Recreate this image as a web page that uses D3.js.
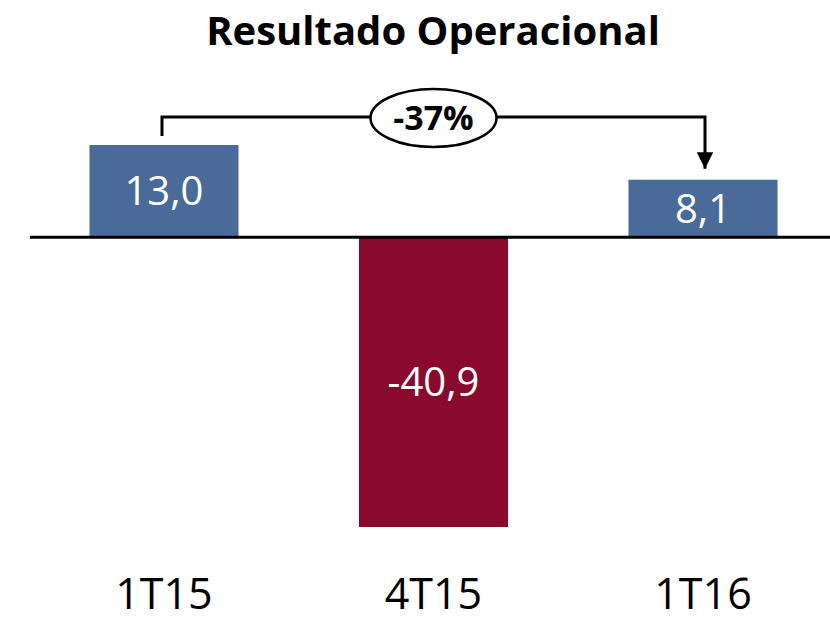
<!DOCTYPE html>
<html>
<head>
<meta charset="utf-8">
<script src="https://cdn.jsdelivr.net/npm/d3@7"></script>
<style>
  body { margin: 0; background: #fff; }
  svg { display: block; font-family: "Open Sans", sans-serif; }
</style>
</head>
<body>
<svg id="chart"></svg>
<script>
const categories = ["1T15", "4T15", "1T16"];
const values = [13.0, -40.9, 8.1];
const valueLabels = ["13,0", "-40,9", "8,1"];
const title = "Resultado Operacional";
const changeLabel = "-37%";

const width = 830;
const height = 621;
const blue = "#4a6a99";
const red = "#8a0a2e";

const svg = d3.select("#chart")
  .attr("width", width)
  .attr("height", height);

const x = d3.scaleBand()
  .domain(categories)
  .range([-31, 898])
  .padding(0.447);

const y = d3.scaleLinear()
  .domain([d3.min(values), d3.max(values)])
  .range([527, 145]);

svg.append("text")
  .attr("x", 433)
  .attr("y", 45)
  .attr("text-anchor", "middle")
  .style("font-size", "40px")
  .style("font-weight", "bold")
  .text(title);

// bars
svg.selectAll(".bar")
  .data(values)
  .enter()
  .append("rect")
  .attr("class", "bar")
  .attr("x", (d, i) => x(categories[i]))
  .attr("width", x.bandwidth())
  .attr("y", d => y(Math.max(0, d)))
  .attr("height", d => Math.abs(y(d) - y(0)))
  .attr("fill", d => d < 0 ? red : blue);

// value labels inside bars
svg.selectAll(".val")
  .data(values)
  .enter()
  .append("text")
  .attr("class", "val")
  .attr("x", (d, i) => x(categories[i]) + x.bandwidth() / 2)
  .attr("y", d => (y(d) + y(0)) / 2)
  .attr("dy", "0.36em")
  .attr("text-anchor", "middle")
  .attr("fill", "#fff")
  .style("font-size", "40px")
  .text((d, i) => valueLabels[i]);

// zero line
svg.append("line")
  .attr("x1", 30)
  .attr("x2", width)
  .attr("y1", y(0))
  .attr("y2", y(0))
  .attr("stroke", "#000")
  .attr("stroke-width", 3);

// category labels
svg.selectAll(".cat")
  .data(categories)
  .enter()
  .append("text")
  .attr("class", "cat")
  .attr("x", d => x(d) + x.bandwidth() / 2)
  .attr("y", 609)
  .attr("text-anchor", "middle")
  .style("font-size", "43px")
  .text(d => d);

// change bracket from first to last bar
const x0 = x(categories[0]) + x.bandwidth() / 2 - 2;
const x1 = x(categories[categories.length - 1]) + x.bandwidth() / 2 + 2;
const by = 117;

svg.append("defs")
  .append("marker")
  .attr("id", "arrow")
  .attr("viewBox", "0 0 10 10")
  .attr("refX", 10)
  .attr("refY", 5)
  .attr("markerWidth", 5.5)
  .attr("markerHeight", 5.5)
  .attr("markerUnits", "strokeWidth")
  .attr("orient", "auto")
  .append("path")
  .attr("d", "M0,0L10,5L0,10Z")
  .attr("fill", "#000");

svg.append("path")
  .attr("d", `M${x0},${y(values[0]) - 9}V${by}H${x1}V${y(values[2]) - 11}`)
  .attr("fill", "none")
  .attr("stroke", "#000")
  .attr("stroke-width", 3)
  .attr("marker-end", "url(#arrow)");

svg.append("ellipse")
  .attr("cx", 433.5)
  .attr("cy", by + 1)
  .attr("rx", 63)
  .attr("ry", 29)
  .attr("fill", "#fff")
  .attr("stroke", "#000")
  .attr("stroke-width", 2.5);

svg.append("text")
  .attr("x", 433.5)
  .attr("y", by + 1)
  .attr("dy", "0.36em")
  .attr("text-anchor", "middle")
  .style("font-size", "34px")
  .style("font-weight", "bold")
  .text(changeLabel);
</script>
</body>
</html>
